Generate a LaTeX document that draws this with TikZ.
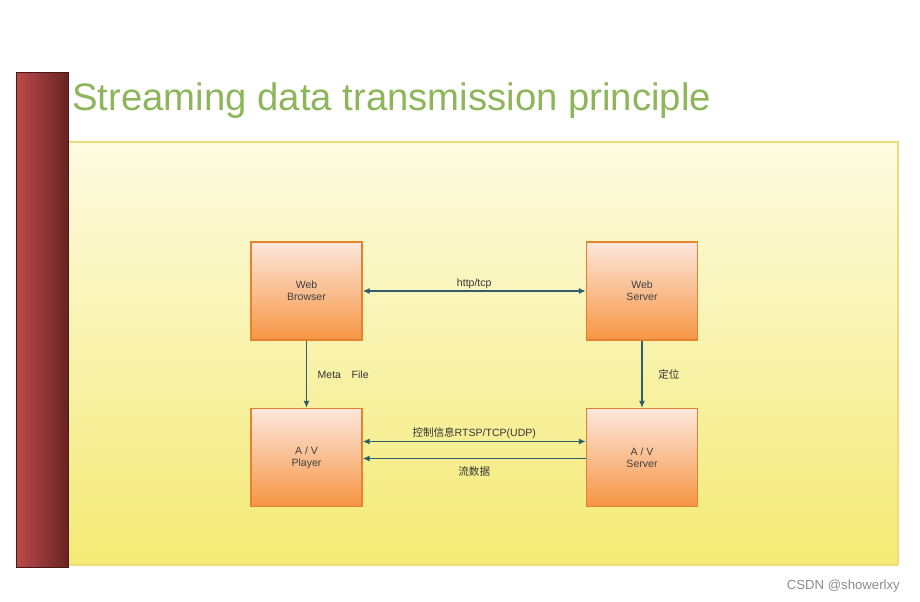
\documentclass[tikz,border=0pt]{standalone}
\usepackage{fontspec}
\setmainfont{Liberation Sans}
\newfontfamily\cjk{Noto Sans CJK SC}
\usepackage{tikz}
\usetikzlibrary{positioning,arrows.meta,shadows}

\definecolor{barlight}{HTML}{BC4B4B}
\definecolor{bardark}{HTML}{6A2222}
\definecolor{titlegreen}{HTML}{8DB559}
\definecolor{paneltop}{HTML}{FDFBE2}
\definecolor{panelbot}{HTML}{F4EA74}
\definecolor{panelline}{HTML}{EEDC7A}
\definecolor{boxtop}{HTML}{FDE7DC}
\definecolor{boxbot}{HTML}{F69543}
\definecolor{boxline}{HTML}{E3822F}
\definecolor{linkcol}{HTML}{2F5F6C}

\begin{document}
\begin{tikzpicture}[x=0.02cm,y=-0.02cm,
	block/.style={draw=boxline, line width=0.8pt, top color=boxtop, bottom color=boxbot,
		minimum width=2.22cm, minimum height=1.96cm, align=center, font=\fontsize{6}{7}\selectfont, text=black!75},
	link/.style={draw=linkcol, line width=0.7pt, -{Latex[length=4pt,width=3.5pt]}},
	twoway/.style={link, {Latex[length=4pt,width=3.5pt]}-{Latex[length=4pt,width=3.5pt]}},
	lbl/.style={font=\fontsize{6}{7}\selectfont, text=black!80, inner sep=1pt}]
	
	\useasboundingbox (0,0) rectangle (920,602);
	
	% background panel and side bar
	\shade[top color=paneltop, bottom color=panelbot, draw=panelline, line width=0.8pt] (68,142) rectangle (898,565);
	\shade[left color=barlight, right color=bardark, draw=bardark!70!black, line width=0.4pt,
		drop shadow={shadow xshift=0.8pt, shadow yshift=-0.8pt, opacity=0.35}] (16,72) rectangle (68,567);
	\node[anchor=base west, text=titlegreen, font=\fontsize{21.8}{26}\selectfont, inner sep=0pt] (title) at (72,110) {Streaming data transmission principle};
	
	% blocks
	\node[block] (browser) at (306.5,291) {Web\\Browser};
	\node[block] (wserver) at (642,291) {Web\\Server};
	\node[block] (player) at (306.5,457.5) {A / V\\Player};
	\node[block] (avserver) at (642,457.5) {A / V\\Server};
	
	% connectors
	\draw[twoway] (browser) -- node[lbl, above] {http/tcp} (wserver);
	\draw[link] (browser) -- node[lbl, right=5pt] {Meta\quad File} (player);
	\draw[link] (wserver) -- node[lbl, right=8pt] {\cjk 定位} (avserver);
	\draw[twoway] ([yshift=0.32cm]player.east) -- node[lbl, above] {\cjk 控制信息\rmfamily RTSP/TCP(UDP)} ([yshift=0.32cm]avserver.west);
	\draw[link] ([yshift=-0.02cm]avserver.west) -- node[lbl, below=3pt] {\cjk 流数据} ([yshift=-0.02cm]player.east);
	
	\node[text=black!45, font=\fontsize{7.5}{9}\selectfont, anchor=east] (mark) at (906,586) {CSDN @showerlxy};
\end{tikzpicture}
\end{document}
